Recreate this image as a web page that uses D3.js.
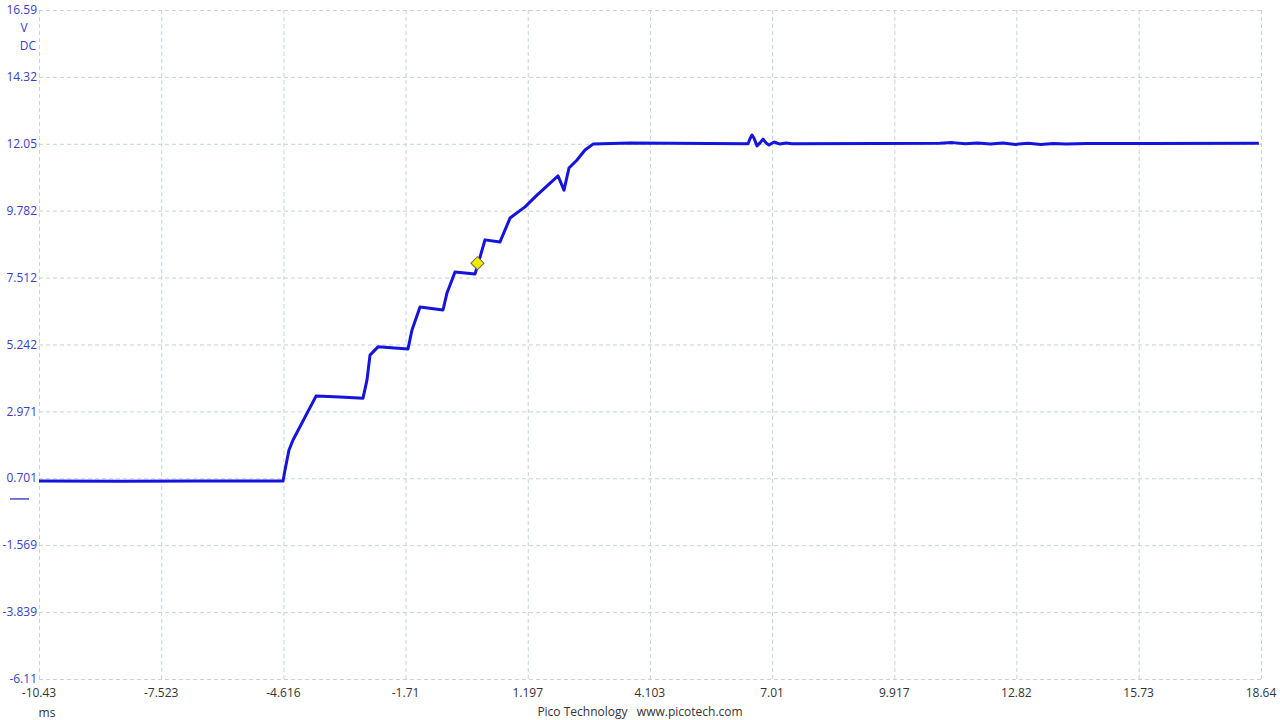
<!DOCTYPE html>
<html>
<head>
<meta charset="utf-8">
<script src="https://cdn.jsdelivr.net/npm/d3@7"></script>
<style>
  body { margin: 0; background: #fff; }
  svg { display: block; font-family: "Open Sans", "Noto Sans", sans-serif; }
  .grid line { stroke: #c4d2da; stroke-dasharray: 4,3; stroke-width: 1; }
  .ylab { fill: #3c3cc4; font-size: 12px; }
  .xlab { fill: #333; font-size: 12px; }
</style>
</head>
<body>
<svg id="chart" width="1280" height="720"></svg>
<script>
// axis ticks as shown on the scope
const yTicks = [16.59, 14.32, 12.05, 9.782, 7.512, 5.242, 2.971, 0.701, -1.569, -3.839, -6.11];
const xTicks = [-10.43, -7.523, -4.616, -1.71, 1.197, 4.103, 7.01, 9.917, 12.82, 15.73, 18.64];

// channel A trace, time in ms and volts
const timeMs = [-10.43, -8.5, -6.6, -4.625, -4.578, -4.483, -4.387, -3.84, -3.269, -2.722,
  -2.627, -2.556, -2.365, -1.652, -1.557, -1.366, -0.819, -0.724, -0.534, -0.058,
  0.014, 0.18, 0.537, 0.775, 1.132, 1.417, 1.917, 2.059, 2.178, 2.369,
  2.559, 2.749, 3.63, 6.437, 6.484, 6.532, 6.58, 6.651, 6.722, 6.794,
  6.865, 6.937, 7.056, 7.198, 7.341, 7.483, 9.5, 11.0, 11.3, 11.6,
  11.9, 12.2, 12.5, 12.8, 13.1, 13.4, 13.7, 14.0, 14.5, 16.0, 18.59];
const volts = [0.61, 0.60, 0.61, 0.61, 0.98, 1.66, 2.00, 3.49, 3.46, 3.42,
  4.04, 4.88, 5.16, 5.09, 5.73, 6.51, 6.41, 6.99, 7.70, 7.63,
  7.97, 8.79, 8.72, 9.53, 9.91, 10.31, 10.96, 10.48, 11.23, 11.50,
  11.84, 12.04, 12.08, 12.05, 12.22, 12.35, 12.24, 11.98, 12.08, 12.21,
  12.08, 12.01, 12.11, 12.04, 12.08, 12.05, 12.06, 12.07, 12.09, 12.05,
  12.08, 12.04, 12.08, 12.03, 12.07, 12.03, 12.06, 12.04, 12.06, 12.06, 12.07];

// trigger marker
const triggerT = [0.0];
const triggerV = [8.0];

const margin = {top: 10, left: 39, right: 19, bottom: 41},
    width = 1280 - margin.left - margin.right,
    height = 720 - margin.top - margin.bottom;

const svg = d3.select("#chart");
const chart = svg.append("g")
    .attr("transform", `translate(${margin.left}, ${margin.top})`);

const x = d3.scaleLinear().domain([-10.43, 18.64]).range([0, width]);
const y = d3.scaleLinear().domain([-6.11, 16.59]).range([height, 0]);

// dashed grid
const grid = chart.append("g").attr("class", "grid");
grid.selectAll("line.h")
    .data(yTicks)
    .enter().append("line")
    .attr("class", "h")
    .attr("x1", 0).attr("x2", width)
    .attr("y1", d => y(d) + 0.5).attr("y2", d => y(d) + 0.5);
grid.selectAll("line.v")
    .data(xTicks)
    .enter().append("line")
    .attr("class", "v")
    .attr("y1", 0).attr("y2", height)
    .attr("x1", d => x(d) + 0.5).attr("x2", d => x(d) + 0.5);

// y labels (blue, channel A)
chart.append("g")
    .selectAll("text")
    .data(yTicks)
    .enter().append("text")
    .attr("class", "ylab")
    .attr("x", -2)
    .attr("y", d => y(d))
    .attr("dy", "0.35em")
    .attr("text-anchor", "end")
    .text(d => d);

svg.append("text").attr("class", "ylab")
    .attr("x", 24).attr("y", 28).attr("dy", "0.35em")
    .attr("text-anchor", "middle").text("V");
svg.append("text").attr("class", "ylab")
    .attr("x", 28).attr("y", 46).attr("dy", "0.35em")
    .attr("text-anchor", "middle").text("DC");

// zero level marker for channel A
svg.append("line")
    .attr("x1", 10).attr("x2", 29)
    .attr("y1", margin.top + y(0)).attr("y2", margin.top + y(0))
    .attr("stroke", "#1a1ad0").attr("stroke-width", 1.2);

// x labels
chart.append("g")
    .selectAll("text")
    .data(xTicks)
    .enter().append("text")
    .attr("class", "xlab")
    .attr("x", d => x(d))
    .attr("y", height + 14)
    .attr("dy", "0.35em")
    .attr("text-anchor", "middle")
    .text(d => d);

svg.append("text").attr("class", "xlab")
    .attr("x", 47).attr("y", 713).attr("dy", "0.35em")
    .attr("text-anchor", "middle").text("ms");
svg.append("text").attr("class", "xlab")
    .attr("x", 640).attr("y", 712).attr("dy", "0.35em")
    .attr("text-anchor", "middle").attr("xml:space", "preserve")
    .text("Pico Technology   www.picotech.com");

// trace
const trace = d3.zip(timeMs, volts);
const line = d3.line().x(d => x(d[0])).y(d => y(d[1]));
chart.append("path")
    .datum(trace)
    .attr("fill", "none")
    .attr("stroke", "#1414dc")
    .attr("stroke-width", 3)
    .attr("stroke-linejoin", "round")
    .attr("d", line);

// trigger diamond
chart.selectAll("path.trig")
    .data(d3.zip(triggerT, triggerV))
    .enter().append("path")
    .attr("class", "trig")
    .attr("d", d3.symbol().type(d3.symbolSquare).size(85))
    .attr("transform", d => `translate(${x(d[0])}, ${y(d[1])}) rotate(45)`)
    .attr("fill", "#f5e800")
    .attr("stroke", "#6a6a40")
    .attr("stroke-width", 1);
</script>
</body>
</html>
